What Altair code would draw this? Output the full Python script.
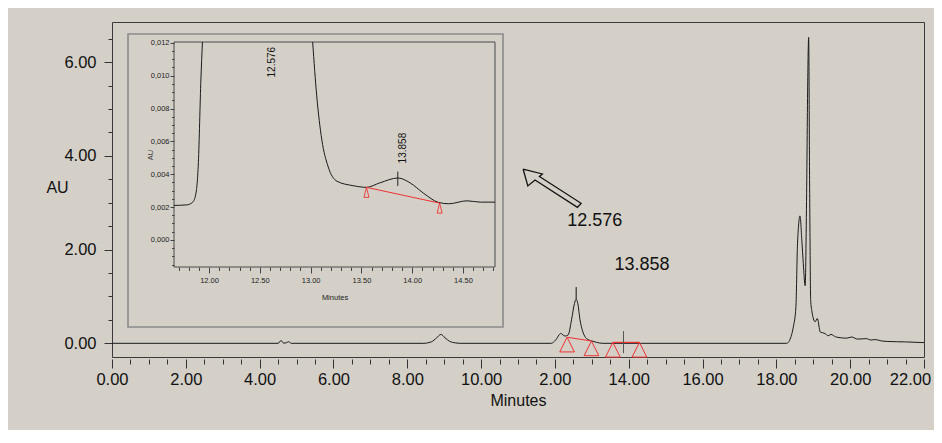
import altair as alt
import pandas as pd

BG = "#d4d0c8"
FONT = "Liberation Sans"

# ---------------- main chromatogram ----------------
main_t = [0.0, 4.50, 4.58, 4.65, 4.72, 4.78, 4.86, 8.45, 8.65, 8.80, 8.91, 9.02, 9.15, 9.30, 9.45,
          11.90, 12.02, 12.16, 12.27, 12.36, 12.45, 12.53, 12.575, 12.62, 12.68, 12.755, 12.86,
          13.0, 13.13, 13.3, 18.28, 18.40, 18.46, 18.53, 18.57, 18.60, 18.64, 18.69, 18.73, 18.78,
          18.82, 18.85, 18.875, 18.90, 18.93, 18.96, 19.05, 19.11, 19.19, 19.32, 19.40, 19.48,
          19.60, 19.73, 19.90, 20.04, 20.20, 20.45, 20.55, 20.68, 20.85, 21.0, 21.5, 22.0]
main_v = [0.0, 0.0, 0.06, 0.005, 0.01, 0.035, 0.0, 0.0, 0.03, 0.12, 0.19, 0.12, 0.04, 0.01, 0.0,
          0.0, 0.07, 0.21, 0.155, 0.18, 0.5, 0.85, 0.94, 0.85, 0.5, 0.25, 0.1,
          0.05, 0.02, 0.0, 0.0, 0.15, 0.35, 0.78, 2.06, 2.5, 2.72, 2.2, 1.7, 1.23,
          3.2, 5.6, 6.53, 3.5, 0.92, 0.7, 0.46, 0.53, 0.24, 0.21, 0.16, 0.19,
          0.14, 0.12, 0.11, 0.135, 0.09, 0.1, 0.07, 0.08, 0.05, 0.04, 0.03, 0.015]

# integration baselines / markers (main)
red_t = [12.33, 12.99, 13.57, 14.29]
red_v = [0.13, 0.05, 0.02, 0.02]
red_seg = ["a", "a", "b", "b"]
mark_t = [12.576, 13.858]
mark_v1 = [0.94, -0.21]
mark_v2 = [1.20, 0.26]
mark_col = ["#111111", "#555555"]

ann_text = ["12.576", "13.858"]
ann_t = [13.078, 14.36]
ann_v = [2.604, 1.671]

# hollow arrow outline (minutes, AU)
arrow_t = [11.138, 11.661, 11.580, 12.710, 12.610, 11.461, 11.266, 11.138]
arrow_v = [3.720, 3.614, 3.560, 2.988, 2.903, 3.485, 3.360, 3.720]

x_major = [0, 2, 4, 6, 8, 10, 12, 14, 16, 18, 20, 22]
x_tick_labels = ["0.00", "2.00", "4.00", "6.00", "8.00", "10.00", "2.00",
                 "14.00", "16.00", "18.00", "20.00", "22.00"]
y_tick_labels = ["0.00", "2.00", "4.00", "6.00"]

# ---------------- inset (zoom) ----------------
inset_t = [11.655, 11.78, 11.84, 11.87, 11.895, 11.92, 11.935,
           13.02, 13.06, 13.11, 13.17, 13.26, 13.42, 13.55, 13.68, 13.86, 13.98,
           14.11, 14.26, 14.36, 14.54, 14.67, 14.815]
inset_v = [0.0021, 0.00213, 0.0023, 0.0028, 0.0047, 0.0098, 0.01205,
           0.01205, 0.00877, 0.0061, 0.0045, 0.00357, 0.0033, 0.0032, 0.00347, 0.00377, 0.00347,
           0.00285, 0.00228, 0.0022, 0.00238, 0.0023, 0.0023]
inset_seg = ["a"] * 7 + ["b"] * 16

inset_red_t = [13.55, 14.27]
inset_red_v = [0.0032, 0.00224]
inset_mark_t = [13.858]
inset_mark_v1 = [0.00329]
inset_mark_v2 = [0.00416]
inset_ann_text = ["12.576", "13.858"]
inset_ann_t = [12.617, 13.91]
inset_ann_v = [0.01082, 0.00559]

inset_x_labels = ["12.00", "12.50", "13.00", "13.50", "14.00", "14.50"]
inset_y_labels = ["0,000", "0,002", "0,004", "0,006", "0,008", "0,010", "0,012"]

# ---------------- scales ----------------
mx = alt.Scale(domain=[0, 22], nice=False, zero=False)
my = alt.Scale(domain=[-0.292, 6.858], nice=False, zero=False)
ix = alt.Scale(domain=[11.655, 14.815], range=[62, 383], nice=False, zero=False)
iy = alt.Scale(domain=[-0.00165, 0.01205], range=[245, 20], nice=False, zero=False)

x_vals = [i * 0.5 for i in range(45)]
y_vals = [i * 0.5 for i in range(14)]
ix_vals = [round(11.7 + 0.1 * i, 1) for i in range(32)]
iy_vals = [round(-0.0015 + 0.0005 * i, 4) for i in range(28)]

xl = "[" + ",".join("'%s'" % s for s in x_tick_labels) + "]"
yl = "[" + ",".join("'%s'" % s for s in y_tick_labels) + "]"
ixl = "[" + ",".join("'%s'" % s for s in inset_x_labels) + "]"
iyl = "[" + ",".join("'%s'" % s for s in inset_y_labels) + "]"

main_x_axis = alt.Axis(
    values=x_vals, orient="bottom", offset=2, domain=False, grid=False,
    labelExpr=f"datum.value % 2 === 0 ? {xl}[datum.value / 2] : ''",
    tickSize={"condition": {"test": "datum.value % 2 === 0", "value": 9}, "value": 5},
    labelOffset={"condition": {"test": "datum.value === 22", "value": -14}, "value": 0},
    tickColor="#333333", labelFont=FONT, labelFontSize=16.5, labelColor="#111111",
    labelPadding=3, labelFlush=False, labelOverlap=False, labelBound=False,
    title="Minutes", titleFont=FONT, titleFontSize=16, titleFontWeight="normal",
    titleColor="#111111", titleY=41, titleBaseline="middle")
main_y_axis = alt.Axis(
    values=y_vals, orient="left", domain=False, grid=False,
    labelExpr=f"datum.value % 2 === 0 ? {yl}[datum.value / 2] : ''",
    tickSize={"condition": {"test": "datum.value % 2 === 0", "value": 8}, "value": 4},
    tickColor="#333333", labelFont=FONT, labelFontSize=16.5, labelColor="#111111",
    labelPadding=8, labelOverlap=False, labelBound=False, labelBaseline="middle",
    title="AU", titleFont=FONT, titleFontSize=16, titleFontWeight="normal",
    titleColor="#111111", titleAngle=0, titleX=-55, titleY=165,
    titleAlign="center", titleBaseline="middle")
inset_x_axis = alt.Axis(
    values=ix_vals, orient="bottom", offset=-90, domain=False, grid=False, zindex=2,
    labelExpr=f"round(datum.value * 10) % 5 === 0 ? {ixl}[(round(datum.value * 10) - 120) / 5] : ''",
    tickSize={"condition": {"test": "round(datum.value * 10) % 5 === 0", "value": 6}, "value": 3.5},
    tickColor="#444444", labelFont=FONT, labelFontSize=7.5, labelColor="#222222",
    labelPadding=3, labelFlush=False, labelOverlap=False, labelBound=False,
    title="Minutes", titleFont=FONT, titleFontSize=7.5, titleFontWeight="normal",
    titleColor="#222222", titleY=30, titleBaseline="middle")
inset_y_axis = alt.Axis(
    values=iy_vals, orient="left", offset=-62, domain=False, grid=False, zindex=2,
    labelExpr=f"(round(datum.value * 2000) % 4 === 0 && round(datum.value * 2000) >= 0) ? {iyl}[round(datum.value * 2000) / 4] : ''",
    tickSize={"condition": {"test": "round(datum.value * 2000) % 4 === 0", "value": 4}, "value": 2.5},
    tickColor="#444444", labelFont=FONT, labelFontSize=7.5, labelColor="#222222",
    labelPadding=1, labelOverlap=False, labelBound=False, labelBaseline="middle",
    title="AU", titleFont=FONT, titleFontSize=7.5, titleFontWeight="normal",
    titleColor="#444444", titleX=-24, titleBaseline="middle")

# ---------------- data frames ----------------
df_main = pd.DataFrame({"t": main_t, "v": main_v})
df_red = pd.DataFrame({"t": red_t, "v": red_v, "seg": red_seg})
df_mark = pd.DataFrame({"t": mark_t, "v1": mark_v1, "v2": mark_v2, "c": mark_col})
df_ann = pd.DataFrame({"t": ann_t, "v": ann_v, "txt": ann_text})
df_arrow = pd.DataFrame({"t": arrow_t, "v": arrow_v, "o": list(range(len(arrow_t)))})
df_inset = pd.DataFrame({"t": inset_t, "v": inset_v, "seg": inset_seg})
df_ired = pd.DataFrame({"t": inset_red_t, "v": inset_red_v})
df_imark = pd.DataFrame({"t": inset_mark_t, "v1": inset_mark_v1, "v2": inset_mark_v2})
df_iann = pd.DataFrame({"t": inset_ann_t, "v": inset_ann_v, "txt": inset_ann_text})
df_one = pd.DataFrame({"a": [0]})

TRI_BIG = "M0,0L-1,2L1,2Z"
TRI_SMALL = "M0,0L-0.5,2L0.5,2Z"
RED = "#f03232"

main_curve = alt.Chart(df_main).mark_line(color="#1a1a1a", strokeWidth=1, interpolate="monotone").encode(
    x=alt.X("t:Q", scale=mx, axis=main_x_axis),
    y=alt.Y("v:Q", scale=my, axis=main_y_axis))
main_red = alt.Chart(df_red).mark_line(color=RED, strokeWidth=1.2).encode(
    x=alt.X("t:Q", scale=mx, axis=None), y=alt.Y("v:Q", scale=my, axis=None), detail="seg:N")
main_tri = alt.Chart(df_red).mark_point(shape=TRI_BIG, size=216, filled=False, color=RED, strokeWidth=1, opacity=1).encode(
    x=alt.X("t:Q", scale=mx, axis=None), y=alt.Y("v:Q", scale=my, axis=None))
main_mark = alt.Chart(df_mark).mark_rule(strokeWidth=1).encode(
    x=alt.X("t:Q", scale=mx, axis=None), y=alt.Y("v1:Q", scale=my, axis=None), y2="v2:Q",
    color=alt.Color("c:N", scale=None))
main_ann = alt.Chart(df_ann).mark_text(font=FONT, fontSize=18, color="#111111", align="center", baseline="middle").encode(
    x=alt.X("t:Q", scale=mx, axis=None), y=alt.Y("v:Q", scale=my, axis=None), text="txt:N")
arrow = alt.Chart(df_arrow).mark_line(color="#111111", strokeWidth=1.3).encode(
    x=alt.X("t:Q", scale=mx, axis=None), y=alt.Y("v:Q", scale=my, axis=None), order="o:Q")

inset_box = alt.Chart(df_one).mark_rect(filled=False, stroke="#8a8a8a", strokeWidth=1.6).encode(
    x=alt.value(16), x2=alt.value(391), y=alt.value(12), y2=alt.value(305))
inset_frame = alt.Chart(df_one).mark_rect(filled=False, stroke="#4a4a4a", strokeWidth=1).encode(
    x=alt.value(62), x2=alt.value(383), y=alt.value(20), y2=alt.value(245))
inset_curve = alt.Chart(df_inset).mark_line(color="#1a1a1a", strokeWidth=1, interpolate="monotone").encode(
    x=alt.X("t:Q", scale=ix, axis=inset_x_axis),
    y=alt.Y("v:Q", scale=iy, axis=inset_y_axis), detail="seg:N")
inset_red = alt.Chart(df_ired).mark_line(color=RED, strokeWidth=1).encode(
    x=alt.X("t:Q", scale=ix, axis=None), y=alt.Y("v:Q", scale=iy, axis=None))
inset_tri = alt.Chart(df_ired).mark_point(shape=TRI_SMALL, size=100, filled=False, color=RED, strokeWidth=0.9, opacity=1).encode(
    x=alt.X("t:Q", scale=ix, axis=None), y=alt.Y("v:Q", scale=iy, axis=None))
inset_mark = alt.Chart(df_imark).mark_rule(color="#222222", strokeWidth=1).encode(
    x=alt.X("t:Q", scale=ix, axis=None), y=alt.Y("v1:Q", scale=iy, axis=None), y2="v2:Q")
inset_ann = alt.Chart(df_iann).mark_text(font=FONT, fontSize=10, color="#111111", angle=270,
                                          align="center", baseline="middle").encode(
    x=alt.X("t:Q", scale=ix, axis=None), y=alt.Y("v:Q", scale=iy, axis=None), text="txt:N")

chart = alt.layer(
    main_curve, main_red, main_tri, main_mark, main_ann, arrow,
    inset_box, inset_frame, inset_curve, inset_red, inset_tri, inset_mark, inset_ann
).resolve_scale(x="independent", y="independent").properties(
    width=812, height=335,
    autosize=alt.AutoSizeParams(type="none"),
    padding={"left": 104, "top": 14, "right": 10, "bottom": 73},
    background=BG,
).configure_view(stroke="#3a3a3a", strokeWidth=1, fill=BG)

chart.save("out.html", embed_options={"renderer": "svg", "actions": False})
